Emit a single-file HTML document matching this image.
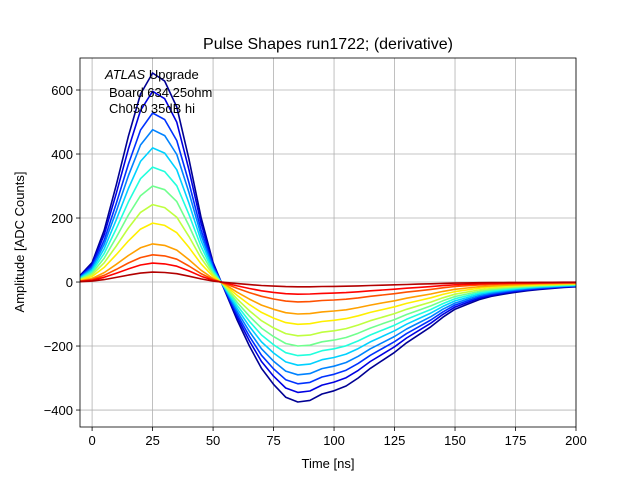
<!DOCTYPE html>
<html><head><meta charset="utf-8"><style>
body{margin:0;background:#fff}
svg text{font-family:"Liberation Sans","DejaVu Sans",sans-serif}
</style></head><body>
<svg id="c" width="640" height="480" xmlns="http://www.w3.org/2000/svg"></svg>
<script>
const times=[-5,0,5,10,15,20,25,30,35,40,45,50,55,60,65,70,75,80,85,90,95,100,105,110,115,120,125,130,135,140,145,150,155,160,165,170,175,180,185,190,195,200];
const shape=[20,60,160,300,450,580,645,620,540,380,200,60,-30,-120,-200,-270,-320,-360,-375,-370,-350,-340,-325,-300,-270,-245,-220,-190,-165,-140,-110,-85,-70,-55,-45,-38,-32,-27,-23,-20,-17,-15];
const peaks=[653,596,528,476,419,359,300,242,184,119,85,59,31];
const troughs=[-375,-345,-318,-290,-260,-230,-200,-168,-132,-100,-62,-38,-15];
const xTicks=[0,25,50,75,100,125,150,175,200];
const yTicks=[-400,-200,0,200,400,600];
const L=80,R=576,T=58,B=427,X0=-5,X1=200,Y0=-453,Y1=700;
const sx=v=>L+(v-X0)/(X1-X0)*(R-L), sy=v=>B-(v-Y0)/(Y1-Y0)*(B-T);
const svg=document.getElementById('c');const NS='http://www.w3.org/2000/svg';
function mk(t,a,p){const e=document.createElementNS(NS,t);for(const k in a)e.setAttribute(k,a[k]);(p||svg).appendChild(e);return e;}
function jet(v){const c=x=>Math.max(0,Math.min(1,x));const r=c(1.5-Math.abs(4*v-3)),g=c(1.5-Math.abs(4*v-2)),b=c(1.5-Math.abs(4*v-1));return `rgb(${r*255|0},${g*255|0},${b*255|0})`;}
const grid=mk('g',{});


xTicks.forEach(t=>{mk('line',{x1:sx(t),x2:sx(t),y1:T,y2:B,stroke:'#b0b0b0','stroke-width':0.8},grid);
 mk('line',{x1:sx(t),x2:sx(t),y1:B,y2:B+4,stroke:'#000','stroke-width':0.8});
 const tx=mk('text',{x:sx(t),y:B+18,'text-anchor':'middle','font-size':13});tx.textContent=t;
 
 });
yTicks.forEach(t=>{mk('line',{x1:L,x2:R,y1:sy(t),y2:sy(t),stroke:'#b0b0b0','stroke-width':0.8},grid);
 mk('line',{x1:L-4,x2:L,y1:sy(t),y2:sy(t),stroke:'#000','stroke-width':0.8});
 const tx=mk('text',{x:L-7,y:sy(t)+5,'text-anchor':'end','font-size':13});tx.textContent=(t<0?'\u2212'+(-t):t);
 
 });
const pk=Math.max(...shape),tr=Math.min(...shape);
const cg=mk('g',{'clip-path':'url(#cp)'});
mk('clipPath',{id:'cp'});document.getElementById('cp').appendChild(mk('rect',{x:L,y:T,width:R-L,height:B-T}));
peaks.forEach((p,i)=>{
 const d=times.map((t,j)=>{const v=shape[j]>0?shape[j]/pk*p:shape[j]/-tr*-troughs[i];return (j?'L':'M')+sx(t).toFixed(1)+','+sy(v).toFixed(1);}).join('');
 const e=mk('path',{d:d,fill:'none',stroke:jet(0.02+i*0.93/(peaks.length-1)),'stroke-width':1.6,'stroke-linejoin':'round'},cg);
 
 
});
mk('rect',{x:L,y:T,width:R-L,height:B-T,fill:'none',stroke:'#000','stroke-width':0.8});
let t=mk('text',{x:328,y:49,'text-anchor':'middle','font-size':16});t.textContent='Pulse Shapes run1722; (derivative)';

t=mk('text',{x:328,y:468,'text-anchor':'middle','font-size':13});t.textContent='Time [ns]';

t=mk('text',{x:24,y:242,'text-anchor':'middle','font-size':13,transform:'rotate(-90 24 242)'});t.textContent='Amplitude [ADC Counts]';

const ann=[['ATLAS',' Upgrade',105,79],['','Board 634 25ohm',109,97],['','Ch050 35dB hi',109,113]];
ann.forEach(a=>{const e=mk('text',{x:a[2],y:a[3],'font-size':13,'xml:space':'preserve'});
 
 if(a[0]){const s=mk('tspan',{'font-style':'italic'},e);s.textContent=a[0];}
 const s2=mk('tspan',{},e);s2.textContent=a[1];});
</script>
</body></html>
